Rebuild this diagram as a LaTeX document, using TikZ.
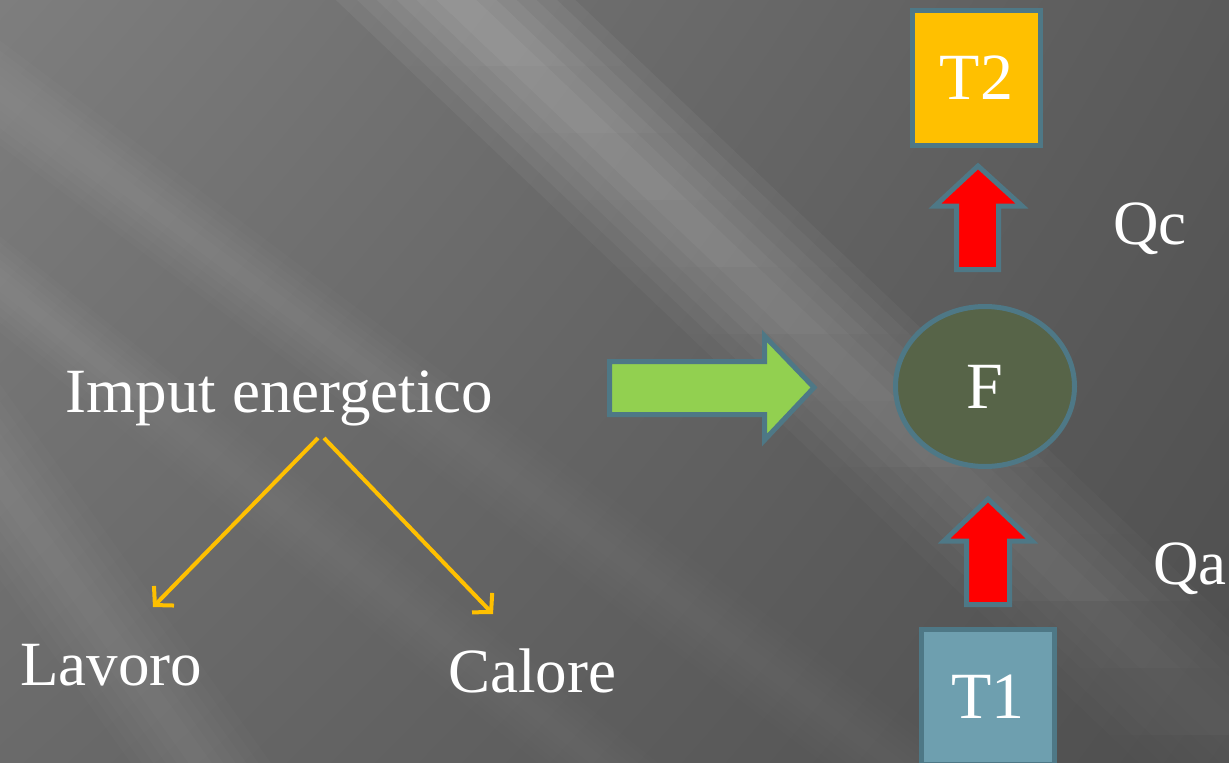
\documentclass[tikz,border=0pt]{standalone}
\usepackage{fontspec}
\setmainfont{Liberation Serif}
\usetikzlibrary{shapes.geometric,arrows.meta,shadings,fadings}
\definecolor{edgeblue}{HTML}{4E7886}
\definecolor{bgul}{HTML}{7E7E7E}
\definecolor{bgur}{HTML}{5A5A5A}
\definecolor{bgll}{HTML}{6A6A6A}
\definecolor{bglr}{HTML}{4E4E4E}
\definecolor{hotbox}{HTML}{FFC000}
\definecolor{coldbox}{HTML}{6E9FAF}
\definecolor{engine}{HTML}{576448}
\definecolor{greenarrow}{HTML}{92D050}
\definecolor{redarrow}{HTML}{FF0000}
\definecolor{splitarrow}{HTML}{FFC000}
\tikzfading[name=fadedown, top color=transparent!0, bottom color=transparent!100]
\tikzfading[name=fadeeven, top color=transparent!20, bottom color=transparent!40]
% #1 x at y=#2, #3 slope dy/dx, #4 half width, #5 opacity per layer, #6 fading
\newcommand\lightband[6]{%
  \foreach \k in {1,...,6}{%
    \fill[white, opacity=#5, path fading=#6]
      ({#1+(-100-#2)/#3-#4*\k/6}, -100) -- ({#1+(-100-#2)/#3+#4*\k/6}, -100) --
      ({#1+(900-#2)/#3+#4*\k/6}, 900) -- ({#1+(900-#2)/#3-#4*\k/6}, 900) -- cycle;
  }}
\tikzset{
  lbl/.style={text=white, font=\fontsize{63}{70}\selectfont, inner sep=0pt},
  boxlbl/.style={text=white, font=\fontsize{66}{72}\selectfont},
  shapeborder/.style={draw=edgeblue, line width=5pt, line join=miter},
  tempbox/.style={shapeborder, rectangle, minimum width=128pt, minimum height=135pt, inner sep=0pt},
  splitline/.style={draw=splitarrow, line width=4pt, -{Straight Barb[length=13pt,width=28pt,line width=4pt]}},
}
\begin{document}
\begin{tikzpicture}[x=1pt,y=-1pt]
\useasboundingbox (0,0) rectangle (1229,763);
% background
\shade[upper left=bgul, upper right=bgur, lower left=bgll, lower right=bglr] (0,0) rectangle (1229,763);
\begin{scope}
  \clip (0,0) rectangle (1229,763);
  \lightband{460}{0}{0.95}{120}{0.06}{fadedown}
  \lightband{0}{90}{0.75}{70}{0.02}{fadeeven}
  \lightband{0}{280}{0.8}{60}{0.02}{fadeeven}
  \lightband{0}{480}{1.4}{70}{0.025}{fadeeven}
\end{scope}

% left part
\node[lbl, anchor=base] (imput) at (279.5,412) {Imput energetico};
\node[lbl, anchor=base] (lavoro) at (111,685) {Lavoro};
\node[lbl, anchor=base] (calore) at (532,692) {Calore};
\coordinate (s1) at (318,438);
\coordinate (e1) at (153,607);
\coordinate (s2) at (324,438);
\coordinate (e2) at (493,614);
\draw[splitline] (s1) -- (e1);
\draw[splitline] (s2) -- (e2);

% green block arrow
\draw[shapeborder, fill=greenarrow]
  (609.5,361.5) -- (764.5,361.5) -- (764.5,336) -- (814,387.5) -- (764.5,440) --
  (764.5,414.5) -- (609.5,414.5) -- cycle;

% right column
\node[tempbox, fill=hotbox, boxlbl] (T2) at (976.5,78) {T2};
\node[tempbox, fill=coldbox, boxlbl, minimum width=133pt] (T1) at (988,697) {T1};
\node[shapeborder, ellipse, fill=engine, minimum width=179pt, minimum height=160pt,
      inner sep=0pt, boxlbl] (F) at (985,386.5) {F};

\draw[shapeborder, fill=redarrow]
  (978,166) -- (1022,206) -- (998.5,206) -- (998.5,269.5) -- (956.5,269.5) --
  (956.5,206) -- (935,206) -- cycle;
\draw[shapeborder, fill=redarrow]
  (988,499) -- (1032,541) -- (1009.5,541) -- (1009.5,604.5) -- (966.5,604.5) --
  (966.5,541) -- (944,541) -- cycle;

\node[lbl, anchor=base] (Qc) at (1150,244) {Qc};
\node[lbl, anchor=base] (Qa) at (1190,584) {Qa};
\end{tikzpicture}
\end{document}
